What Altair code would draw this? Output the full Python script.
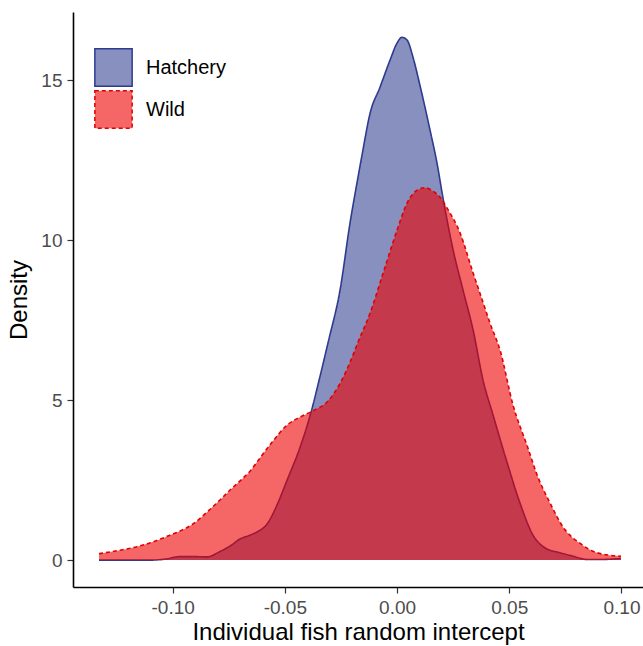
import altair as alt
import pandas as pd

# Kernel density estimates of the individual-fish random intercepts
hatch_x = [-0.1328, -0.1101, -0.1034, -0.0967, -0.0900, -0.0847, -0.0789, -0.0744,
           -0.0700, -0.0655, -0.0624, -0.0579, -0.0535, -0.0490, -0.0432, -0.0383,
           -0.0343, -0.0307, -0.0254, -0.0209, -0.0178, -0.0156, -0.0120, -0.0076,
           -0.0031, 0.0000, 0.0022, 0.0045, 0.0071, 0.0102, 0.0147, 0.0178, 0.0205,
           0.0250, 0.0294, 0.0339, 0.0383, 0.0428, 0.0490, 0.0548, 0.0606, 0.0660,
           0.0726, 0.0780, 0.0847, 0.0905, 0.0998]
hatch_y = [0.00, 0.00, 0.03, 0.11, 0.11, 0.10, 0.27, 0.44,
           0.66, 0.78, 0.88, 1.13, 1.72, 2.50, 3.53, 4.63,
           5.75, 6.81, 8.44, 10.56, 11.81, 12.66, 13.97, 14.78,
           15.63, 16.16, 16.34, 16.25, 15.72, 14.84, 13.44, 12.41, 11.31,
           9.69, 8.44, 7.19, 5.63, 4.53, 3.06, 1.78, 0.78, 0.38,
           0.23, 0.13, 0.02, 0.02, 0.05]

wild_x = [-0.1328, -0.1234, -0.1159, -0.1070, -0.1012, -0.0967, -0.0909, -0.0847,
          -0.0789, -0.0735, -0.0691, -0.0655, -0.0611, -0.0553, -0.0490, -0.0432,
          -0.0374, -0.0312, -0.0254, -0.0209, -0.0174, -0.0120, -0.0062, 0.0000,
          0.0045, 0.0089, 0.0125, 0.0160, 0.0192, 0.0223, 0.0281, 0.0339, 0.0383,
          0.0414, 0.0459, 0.0517, 0.0579, 0.0628, 0.0682, 0.0740, 0.0816, 0.0891,
          0.0998]
wild_y = [0.20, 0.31, 0.42, 0.61, 0.78, 0.91, 1.13, 1.50,
          1.88, 2.25, 2.53, 2.78, 3.19, 3.72, 4.22, 4.47,
          4.67, 4.94, 5.52, 6.19, 6.81, 7.72, 8.97, 10.31,
          11.16, 11.56, 11.64, 11.53, 11.34, 11.00, 10.22, 8.97, 8.06,
          7.41, 6.56, 4.84, 3.59, 2.59, 1.78, 1.03, 0.52, 0.23,
          0.12]

groups = ["Hatchery", "Wild"]
fill_colors = ["rgba(57,70,148,0.6)", "rgba(238,0,0,0.6)"]
line_colors = ["#2E3A8C", "#E00000"]
dashes = [[1, 0], [4, 3]]
x_ticks = [-0.10, -0.05, 0.00, 0.05, 0.10]
y_ticks = [0, 5, 10, 15]

df = pd.concat([
    pd.DataFrame({"x": hatch_x, "density": hatch_y, "group": groups[0]}),
    pd.DataFrame({"x": wild_x, "density": wild_y, "group": groups[1]}),
])

FONT = "Liberation Sans"

legend = alt.Legend(
    title=None, orient="none", legendX=21, legendY=36,
    symbolType="square", symbolSize=1390, symbolStrokeWidth=1.5,
    labelFontSize=20, labelFont=FONT, labelColor="black",
    labelOffset=13, rowPadding=-6,
)

x_enc = alt.X("x:Q", scale=alt.Scale(domain=[-0.1444, 0.1096], nice=False, zero=False),
              axis=alt.Axis(values=x_ticks, format=".2f",
                            labelExpr="replace(datum.label, '\u2212', '-')",
                            title="Individual fish random intercept"))
y_enc = alt.Y("density:Q", stack=None,
              scale=alt.Scale(domain=[-0.84, 17.13], nice=False, zero=False),
              axis=alt.Axis(values=y_ticks, title="Density"))
fill_enc = alt.Fill("group:N", scale=alt.Scale(domain=groups, range=fill_colors), legend=legend)
stroke_enc = alt.Stroke("group:N", scale=alt.Scale(domain=groups, range=line_colors), legend=legend)
dash_enc = alt.StrokeDash("group:N", scale=alt.Scale(domain=groups, range=dashes), legend=legend)

base = alt.Chart(df)


def area(g):
    return base.transform_filter(alt.datum.group == g).mark_area(
        interpolate="monotone", strokeWidth=0
    ).encode(x=x_enc, y=y_enc, fill=fill_enc)


def line(g):
    return base.transform_filter(alt.datum.group == g).mark_line(
        interpolate="monotone", strokeWidth=1.6
    ).encode(x=x_enc, y=y_enc, stroke=stroke_enc, strokeDash=dash_enc)


chart = alt.layer(
    area("Hatchery"), line("Hatchery"), area("Wild"), line("Wild")
).properties(
    width=570, height=575,
    padding={"left": 73, "top": 12, "right": 0, "bottom": 59},
    autosize=alt.AutoSizeParams(type="none"),
).configure_view(stroke=None).configure_axis(
    grid=False, domainColor="black", domainWidth=1.6,
    tickColor="#333333", tickWidth=1.2, tickSize=6,
    labelFont=FONT, labelFontSize=19, labelColor="#4D4D4D",
    titleFont=FONT, titleFontSize=24, titleFontWeight="normal", titleColor="black",
).configure_axisX(labelPadding=5, titlePadding=3).configure_axisY(labelPadding=5, titlePadding=9)

chart.save("out.html", embed_options={"renderer": "svg", "actions": False})
